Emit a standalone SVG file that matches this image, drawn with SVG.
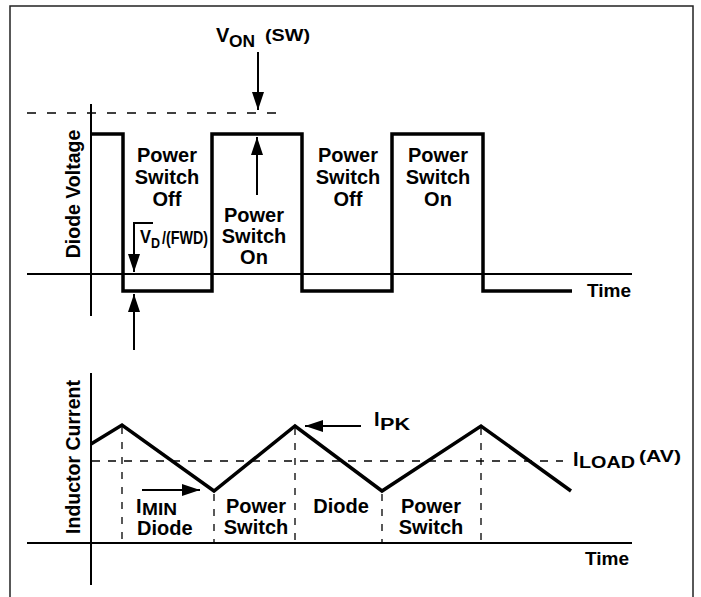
<svg xmlns="http://www.w3.org/2000/svg" width="701" height="597" viewBox="0 0 701 597">
<defs>
<style>
.t{font-family:"Liberation Sans",Arial,sans-serif;font-weight:bold;font-size:20px;fill:#000}
.c{text-anchor:middle}
.r{font-size:19.5px}
.ax{stroke:#000;stroke-width:2;fill:none}
.wave{stroke:#000;stroke-width:3.5;fill:none;stroke-linejoin:miter}
.dash{stroke:#000;stroke-width:1.3;fill:none;stroke-dasharray:8 8}
.arr{stroke:#000;stroke-width:2;fill:none;marker-end:url(#ah)}
</style>
<marker id="ah" markerUnits="userSpaceOnUse" markerWidth="18" markerHeight="12" refX="18" refY="6" orient="auto">
<path d="M0,0 L18,6 L0,12 z" fill="#000"/>
</marker>
</defs>
<rect x="0" y="0" width="701" height="597" fill="#fff"/>
<rect x="10" y="6" width="683" height="600" fill="none" stroke="#222" stroke-width="1.5"/>

<!-- top chart -->
<g id="top-axes">
<line class="ax" x1="91" y1="104" x2="91" y2="316"/>
<line class="ax" x1="27" y1="274" x2="632" y2="274"/>
<line class="dash" x1="27" y1="113" x2="277" y2="113" style="stroke-dasharray:9 11"/>
</g>
<path class="wave" d="M91,134 H123 V291 H212 V134 H302 V291 H392 V134 H483 V291 H572"/>

<!-- bottom chart -->
<g id="bottom-axes">
<line class="ax" x1="91" y1="373" x2="91" y2="585"/>
<line class="ax" x1="27" y1="543" x2="632" y2="543"/>
<line class="dash" x1="92" y1="461" x2="563" y2="461"/>
<line class="dash" x1="122" y1="427" x2="122" y2="543" style="stroke-dasharray:7 8"/>
<line class="dash" x1="214" y1="494" x2="214" y2="543" style="stroke-dasharray:7 8"/>
<line class="dash" x1="295" y1="428" x2="295" y2="543" style="stroke-dasharray:7 8"/>
<line class="dash" x1="382" y1="494" x2="382" y2="543" style="stroke-dasharray:7 8"/>
<line class="dash" x1="481" y1="428" x2="481" y2="543" style="stroke-dasharray:7 8"/>
</g>
<path class="wave" d="M91,444 L122,425 L214,491 L295,426 L382,491 L481,426 L571,491"/>

<g id="connectors">
<line class="arr" x1="258" y1="52" x2="258" y2="110"/>
<line class="arr" x1="257" y1="195" x2="257" y2="137"/>
<path class="arr" d="M153,223 H134 V272"/>
<line class="arr" x1="134" y1="350" x2="134" y2="294"/>
<line class="arr" x1="142" y1="490" x2="200" y2="490"/>
<line class="arr" x1="361" y1="426" x2="305" y2="426"/>
</g>

<g id="label-von">
<text class="t" x="216" y="42">V</text>
<text class="t" x="229" y="47" style="font-size:16px" textLength="26" lengthAdjust="spacingAndGlyphs">ON</text>
<text class="t" x="265" y="41" style="font-size:17px" textLength="45" lengthAdjust="spacingAndGlyphs">(SW)</text>
</g>

<g id="label-diode-voltage">
<text class="t c r" transform="translate(80,194) rotate(-90)">Diode Voltage</text>
</g>

<g id="label-off-1">
<text class="t c" x="167" y="162">Power</text>
<text class="t c" x="167" y="184">Switch</text>
<text class="t c" x="167" y="206">Off</text>
</g>
<g id="label-on-1">
<text class="t c" x="254" y="222">Power</text>
<text class="t c" x="254" y="243">Switch</text>
<text class="t c" x="254" y="264">On</text>
</g>
<g id="label-off-2">
<text class="t c" x="348" y="162">Power</text>
<text class="t c" x="348" y="184">Switch</text>
<text class="t c" x="348" y="206">Off</text>
</g>
<g id="label-on-2">
<text class="t c" x="438" y="162">Power</text>
<text class="t c" x="438" y="184">Switch</text>
<text class="t c" x="438" y="206">On</text>
</g>

<g id="label-vd">
<text class="t" x="140" y="243" style="font-size:18px" textLength="11" lengthAdjust="spacingAndGlyphs">V</text>
<text class="t" x="151" y="248" style="font-size:15px" textLength="9" lengthAdjust="spacingAndGlyphs">D</text>
<text class="t" x="162" y="244" style="font-size:18px" textLength="46" lengthAdjust="spacingAndGlyphs">/(FWD)</text>
</g>

<g id="label-time-top">
<text class="t" x="587" y="297" style="font-size:19px">Time</text>
</g>

<g id="label-inductor-current">
<text class="t c r" transform="translate(80,457) rotate(-90)">Inductor Current</text>
</g>

<g id="label-imin">
<text class="t" x="136" y="513">I</text>
<text class="t" x="142" y="515" style="font-size:16px" textLength="35" lengthAdjust="spacingAndGlyphs">MIN</text>
</g>
<g id="label-diode-1">
<text class="t" x="137" y="535">Diode</text>
</g>
<g id="label-ps-1">
<text class="t c" x="256" y="513">Power</text>
<text class="t c" x="256" y="534">Switch</text>
</g>
<g id="label-diode-2">
<text class="t c" x="341" y="513">Diode</text>
</g>
<g id="label-ps-2">
<text class="t c" x="431" y="513">Power</text>
<text class="t c" x="431" y="534">Switch</text>
</g>

<g id="label-ipk">
<text class="t" x="374" y="426">I</text>
<text class="t" x="380" y="430" style="font-size:16px" textLength="30" lengthAdjust="spacingAndGlyphs">PK</text>
</g>

<g id="label-iload">
<text class="t" x="573" y="466">I</text>
<text class="t" x="579" y="468" style="font-size:16px" textLength="56" lengthAdjust="spacingAndGlyphs">LOAD</text>
<text class="t" x="639" y="462" style="font-size:17px" textLength="42" lengthAdjust="spacingAndGlyphs">(AV)</text>
</g>

<g id="label-time-bottom">
<text class="t" x="585" y="565" style="font-size:19px">Time</text>
</g>
</svg>
